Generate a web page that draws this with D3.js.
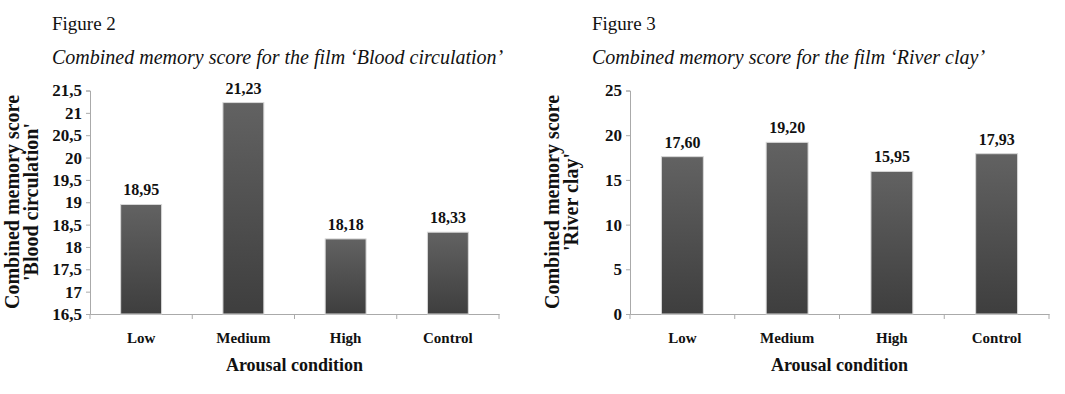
<!DOCTYPE html>
<html lang="en">
  <head>
    <meta charset="utf-8">
    <title>Combined memory score</title>
    <style>
      body { margin: 0; background: #fff; }
      text { font-family: "Liberation Serif", "Times New Roman", serif; }
    </style>
  </head>
  <body>
  <script src="https://d3js.org/d3.v7.min.js"></script>
  <div id="chart"></div>

  <script>
  // data
  var conditions = ["Low", "Medium", "High", "Control"];
  var bloodScores = [18.95, 21.23, 18.18, 18.33];
  var riverScores = [17.60, 19.20, 15.95, 17.93];
  var bloodTicks = [16.5, 17, 17.5, 18, 18.5, 19, 19.5, 20, 20.5, 21, 21.5];
  var riverTicks = [0, 5, 10, 15, 20, 25];

  var width = 1065, height = 394;
  var comma = d3.formatLocale({decimal: ",", thousands: ".", grouping: [3], currency: ["", ""]});

  var svg = d3.select("#chart")
    .append("svg")
      .attr("width", width)
      .attr("height", height);

  var grad = svg.append("defs")
    .append("linearGradient")
      .attr("id", "barFill")
      .attr("x1", 0).attr("y1", 0).attr("x2", 0).attr("y2", 1);
  grad.append("stop").attr("offset", "0%").attr("stop-color", "#626262");
  grad.append("stop").attr("offset", "100%").attr("stop-color", "#3e3e3e");

  function drawFigure(opts) {
    var g = svg.append("g");

    g.append("text")
      .attr("x", opts.left - 38)
      .attr("y", 30)
      .attr("font-size", "19px")
      .attr("fill", "#111")
      .text(opts.figure);

    g.append("text")
      .attr("x", opts.left - 38)
      .attr("y", 64)
      .attr("font-size", "20px")
      .attr("font-style", "italic")
      .attr("fill", "#111")
      .text(opts.title);

    var x = d3.scaleBand()
      .domain(conditions)
      .range([opts.left, opts.right])
      .paddingInner(0.6)
      .paddingOuter(0.3);

    var y = d3.scaleLinear()
      .domain(d3.extent(opts.ticks))
      .range([314, 90.5]);

    // y axis
    var yAxis = g.append("g")
      .attr("transform", "translate(" + opts.left + ",0)")
      .call(d3.axisLeft(y).tickValues(opts.ticks).tickSize(4).tickPadding(4)
        .tickFormat(comma.format(".1~f")));
    yAxis.selectAll("text")
      .attr("font-family", "Liberation Serif")
      .attr("font-weight", "bold")
      .attr("font-size", "17px")
      .attr("fill", "#111");

    // x axis with tick marks between the bands
    var xAxis = g.append("g")
      .attr("transform", "translate(0,314)")
      .call(d3.axisBottom(x).tickSize(0).tickPadding(18));
    xAxis.selectAll("text")
      .attr("font-family", "Liberation Serif")
      .attr("font-weight", "bold")
      .attr("font-size", "15px")
      .attr("fill", "#111");
    xAxis.selectAll(".sep")
      .data(d3.range(conditions.length + 1))
      .enter()
      .append("line")
        .attr("x1", function(i){ return opts.left + i * (opts.right - opts.left) / conditions.length })
        .attr("x2", function(i){ return opts.left + i * (opts.right - opts.left) / conditions.length })
        .attr("y1", 0)
        .attr("y2", 5)
        .attr("stroke", "#aaa");

    svg.selectAll(".domain, .tick line").attr("stroke", "#aaa");

    g.selectAll("rect.bar")
      .data(opts.values)
      .enter()
      .append("rect")
        .attr("class", "bar")
        .attr("x", function(d, i){ return x(conditions[i]) })
        .attr("y", function(d){ return y(d) })
        .attr("width", x.bandwidth())
        .attr("height", function(d){ return y(y.domain()[0]) - y(d) })
        .attr("fill", "url(#barFill)")
        .attr("stroke", "#d8d8d8")
        .attr("stroke-width", 1);

    g.selectAll("text.val")
      .data(opts.values)
      .enter()
      .append("text")
        .attr("class", "val")
        .attr("x", function(d, i){ return x(conditions[i]) + x.bandwidth() / 2 })
        .attr("y", function(d){ return y(d) - 9 })
        .attr("text-anchor", "middle")
        .attr("font-size", "16px")
        .attr("font-weight", "bold")
        .attr("fill", "#111")
        .text(function(d){ return comma.format(".2f")(d) });

    g.append("text")
      .attr("x", (opts.left + opts.right) / 2)
      .attr("y", 371)
      .attr("text-anchor", "middle")
      .attr("font-size", "18px")
      .attr("font-weight", "bold")
      .attr("fill", "#111")
      .text("Arousal condition");

    var yt = g.append("text")
      .attr("transform", "translate(" + (opts.left - 71) + "," + ((90 + 314) / 2) + ") rotate(-90)")
      .attr("text-anchor", "middle")
      .attr("font-size", "20px")
      .attr("font-weight", "bold")
      .attr("fill", "#111");
    yt.append("tspan").attr("x", 0).attr("dy", 0).text("Combined memory score");
    yt.append("tspan").attr("x", 0).attr("dy", 19).text(opts.ytitle);
  }

  drawFigure({
    figure: "Figure 2",
    title: "Combined memory score for the film \u2018Blood circulation\u2019",
    values: bloodScores,
    ticks: bloodTicks,
    ytitle: "'Blood circulation'",
    left: 90, right: 499
  });

  drawFigure({
    figure: "Figure 3",
    title: "Combined memory score for the film \u2018River clay\u2019",
    values: riverScores,
    ticks: riverTicks,
    ytitle: "'River clay'",
    left: 630, right: 1049
  });
  </script>
</body>
</html>
